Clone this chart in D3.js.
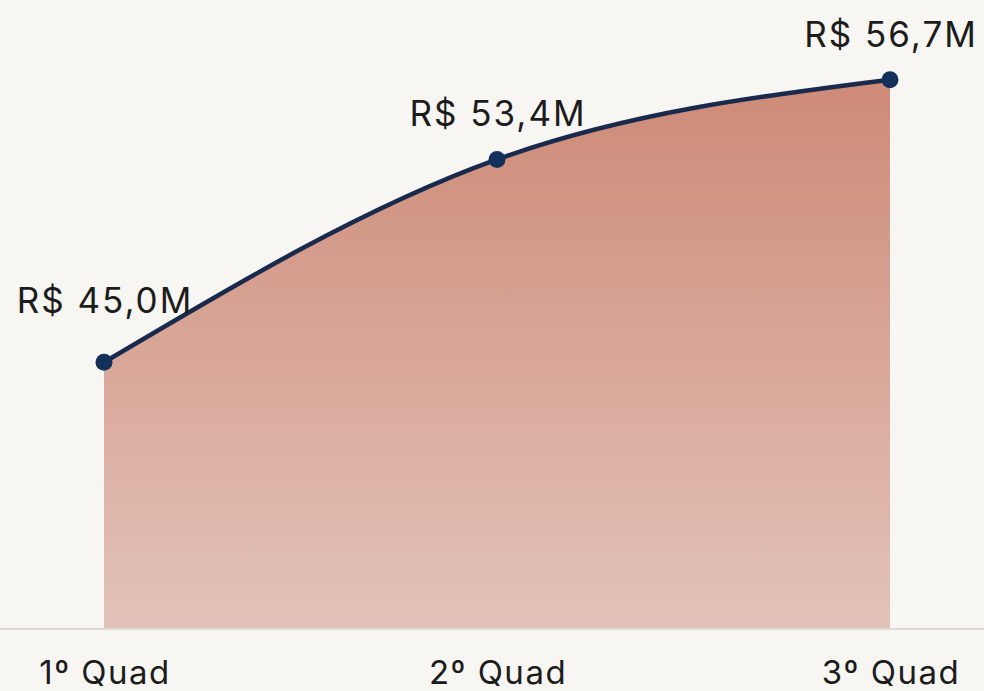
<!DOCTYPE html>
<html><head><meta charset="utf-8">
<script src="https://cdn.jsdelivr.net/npm/d3@7"></script>
<style>html,body{margin:0;padding:0;background:#f7f6f2;}svg{display:block;}</style>
</head><body>
<svg id="chart" width="984" height="691"></svg>
<script>
const categories = ["1º Quad", "2º Quad", "3º Quad"];
const values = [45.0, 53.4, 56.7];
const valueLabels = ["R$ 45,0M", "R$ 53,4M", "R$ 56,7M"];

const W = 984, H = 691;
const svg = d3.select("#chart");
const x = d3.scalePoint().domain(categories).range([104, 890]);
const y = d3.scaleLinear().domain([34, 60]).range([628, 0]);
const data = categories.map((c, i) => ({c, v: values[i], label: valueLabels[i]}));

const defs = svg.append("defs");
const grad = defs.append("linearGradient").attr("id", "g")
  .attr("gradientUnits", "userSpaceOnUse").attr("x1", 0).attr("y1", y(values[2])).attr("x2", 0).attr("y2", y(34));
grad.append("stop").attr("offset", 0).attr("stop-color", "#cd8a77");
grad.append("stop").attr("offset", 1).attr("stop-color", "#e3c3b9");

svg.append("rect").attr("width", W).attr("height", H).attr("fill", "#f7f6f2");

const curve = d3.curveMonotoneX;
svg.append("path").datum(data)
  .attr("d", d3.area().x(d => x(d.c)).y0(y(34)).y1(d => y(d.v)).curve(curve))
  .attr("fill", "url(#g)");

svg.append("line").attr("x1", 0).attr("x2", W).attr("y1", y(34) + 1).attr("y2", y(34) + 1)
  .attr("stroke", "#dedad5").attr("stroke-width", 2);

svg.append("path").datum(data)
  .attr("d", d3.line().x(d => x(d.c)).y(d => y(d.v)).curve(curve))
  .attr("fill", "none").attr("stroke", "#1a2a4c").attr("stroke-width", 4.5).attr("stroke-linecap", "round");

svg.selectAll("circle.pt").data(data).join("circle").attr("class", "pt")
  .attr("cx", d => x(d.c)).attr("cy", d => y(d.v)).attr("r", 8.5).attr("fill", "#13305b");

const font = "Inter, Roboto, sans-serif";
svg.selectAll("text.val").data(data).join("text").attr("class", "val")
  .attr("x", d => x(d.c) + 1).attr("y", (d, i) => y(d.v) - (i === 0 ? 49 : 33))
  .attr("text-anchor", "middle").attr("font-family", font).attr("font-size", 35)
  .attr("letter-spacing", 2)
  .attr("fill", "#1c1c1c").text(d => d.label);

svg.selectAll("text.cat").data(data).join("text").attr("class", "cat")
  .attr("x", d => x(d.c) + 1).attr("y", 684)
  .attr("text-anchor", "middle").attr("font-family", font).attr("font-size", 33)
  .attr("letter-spacing", 1.5)
  .attr("fill", "#1c1c1c").text(d => d.c);
</script>
</body></html>
